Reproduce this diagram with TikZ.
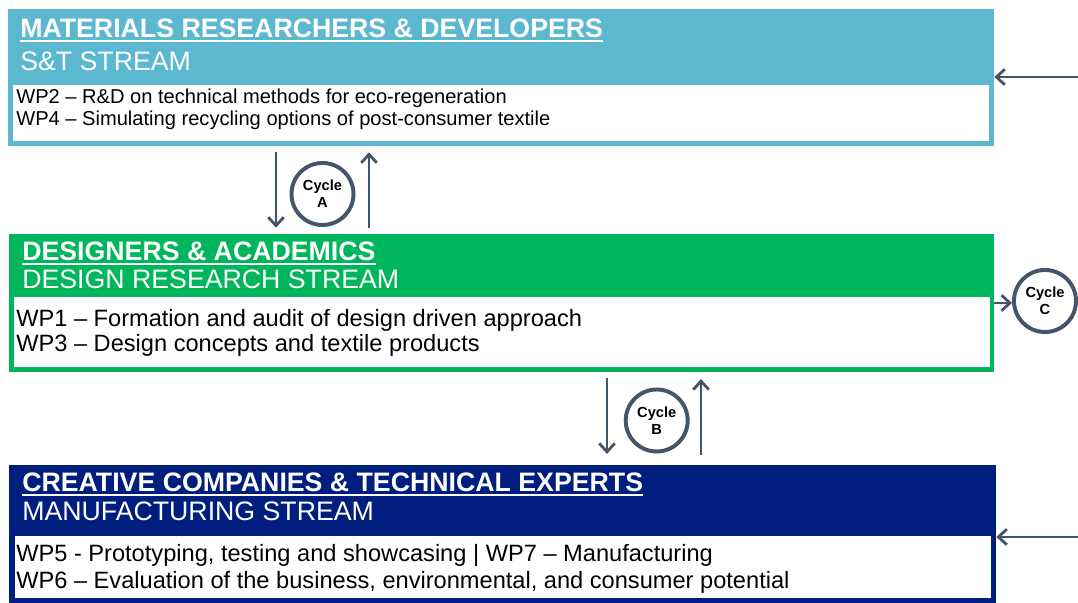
\documentclass[tikz,border=0pt]{standalone}
\usepackage{fontspec}
\setmainfont{Liberation Sans}
\usetikzlibrary{arrows.meta}

\begin{document}
\begin{tikzpicture}[
  streambox/.style={draw=none,shape=rectangle,inner sep=0pt,anchor=center},
  wpbox/.style={draw=none,fill=white,shape=rectangle,inner sep=0pt,minimum width=24.4cm},
  headtitle/.style={inner sep=0pt,anchor=base west,text=white,font=\fontsize{19}{22}\selectfont\bfseries},
  headsub/.style={inner sep=0pt,anchor=base west,text=white,font=\fontsize{19}{22}\selectfont},
  wpline/.style={inner sep=0pt,anchor=base west,text=black,font=\fontsize{16.8}{20}\selectfont},
  wpsmall/.style={inner sep=0pt,anchor=base west,text=black,font=\fontsize{14.3}{17}\selectfont},
  cycle/.style={draw=cflow,fill=white,line width=2.8pt,shape=circle,minimum size=1.55cm,inner sep=0pt,
    align=center,font=\fontsize{10.4}{12}\selectfont\bfseries},
  flow/.style={draw=cflow,line width=2pt,-{Straight Barb[length=6pt,width=11pt]}},
  uline/.style={draw=white,line width=1.4pt}
]
\definecolor{cst}{rgb}{0.357,0.722,0.816}
\definecolor{cdr}{rgb}{0.0,0.714,0.361}
\definecolor{cmf}{rgb}{0.0,0.118,0.494}
\definecolor{cflow}{rgb}{0.267,0.329,0.416}
%
\useasboundingbox (0,0) rectangle (26.95,15.075);
%
\node[streambox,fill=cst,minimum width=24.65cm,minimum height=3.425cm] (topbox) at (12.525,13.1375) {};
\node[wpbox,minimum height=1.4cm] (topin) at (12.525,12.25) {};
\node[headtitle] (t1) at (0.5,14.125) {MATERIALS RESEARCHERS \& DEVELOPERS};
\node[headsub] (s1) at (0.5,13.3) {S\&T STREAM};
\node[wpsmall] (wp2) at (0.4,12.475) {WP2 – R\&D on technical methods for eco-regeneration};
\node[wpsmall] (wp4) at (0.4,11.925) {WP4 – Simulating recycling options of post-consumer textile};
%
\node[streambox,fill=cdr,minimum width=24.625cm,minimum height=3.45cm] (midbox) at (12.5375,7.5) {};
\node[wpbox,minimum height=1.75cm] (midin) at (12.55,6.775) {};
\node[headtitle] (t2) at (0.55,8.55) {DESIGNERS \& ACADEMICS};
\node[headsub] (s2) at (0.55,7.85) {DESIGN RESEARCH STREAM};
\node[wpline] (wp1) at (0.4,6.9) {WP1 – Formation and audit of design driven approach};
\node[wpline] (wp3) at (0.4,6.275) {WP3 – Design concepts and textile products};
%
\node[streambox,fill=cmf,minimum width=24.675cm,minimum height=3.45cm] (botbox) at (12.5625,1.725) {};
\node[wpbox,minimum height=1.55cm] (botin) at (12.575,0.9) {};
\node[headtitle] (t3) at (0.55,2.775) {CREATIVE COMPANIES \& TECHNICAL EXPERTS};
\node[headsub] (s3) at (0.55,2.05) {MANUFACTURING STREAM};
\node[wpline] (wp5) at (0.4,1.025) {WP5 - Prototyping, testing and showcasing | WP7 – Manufacturing};
\node[wpline] (wp6) at (0.4,0.35) {WP6 – Evaluation of the business, environmental, and consumer potential};
%
\draw[uline] ([yshift=-0.075cm]t1.base west) -- ([yshift=-0.075cm]t1.base east);
\draw[uline] ([yshift=-0.075cm]t2.base west) -- ([yshift=-0.075cm]t2.base east);
\draw[uline] ([yshift=-0.075cm]t3.base west) -- ([yshift=-0.075cm]t3.base east);
%
\node[cycle] (cycA) at (8.0625,10.225) {Cycle\\A};
\node[cycle] (cycB) at (16.4175,4.5625) {Cycle\\B};
\node[cycle] (cycC) at (26.125,7.55) {Cycle\\C};
%
\coordinate (aDn) at (6.9,0);
\coordinate (aUp) at (9.225,0);
\coordinate (bDn) at (15.175,0);
\coordinate (bUp) at (17.525,0);
\coordinate (inTop) at (26.95,13.15);
\coordinate (inBot) at (26.95,1.65);
%
\draw[flow,shorten <=0.15cm,shorten >=0.15cm] (topbox.south -| aDn) -- (midbox.north -| aDn);
\draw[flow,shorten <=0.15cm,shorten >=0.15cm] (midbox.north -| aUp) -- (topbox.south -| aUp);
\draw[flow,shorten <=0.15cm,shorten >=0.27cm] (midbox.south -| bDn) -- (botbox.north -| bDn);
\draw[flow,shorten <=0.25cm,shorten >=0.17cm] (botbox.north -| bUp) -- (midbox.south -| bUp);
\draw[flow] (midbox.east) -- (midbox.east -| cycC.west);
\draw[flow] (inTop) -- (inTop -| topbox.east);
\draw[flow] (inBot) -- (inBot -| botbox.east);
%
\end{tikzpicture}
\end{document}
